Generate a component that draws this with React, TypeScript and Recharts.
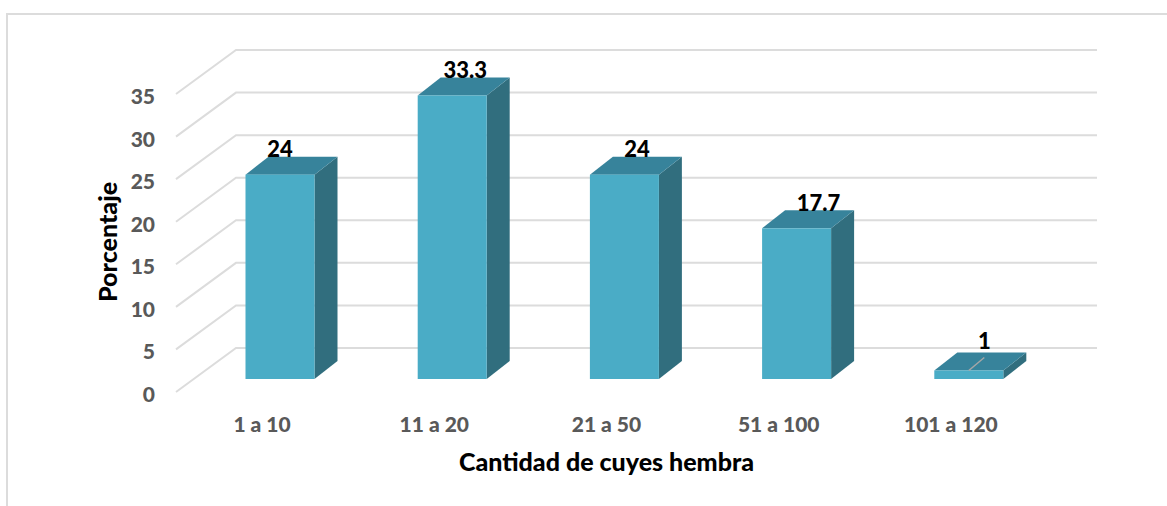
import React from "react";
import { BarChart, Bar, XAxis, YAxis, CartesianGrid, LabelList, Label } from "recharts";

const categories = ["1 a 10", "11 a 20", "21 a 50", "51 a 100", "101 a 120"];
const percentages = [24, 33.3, 24, 17.7, 1];
const yTicks = [0, 5, 10, 15, 20, 25, 30, 35];

const rows = categories.map((category, i) => ({ category, value: percentages[i] }));

const FONT = "Lato, Carlito, Calibri, sans-serif";
const WALL_DX = 60;
const WALL_DY = 44;
const BAR_DX = 17.5;
const BAR_DY = 13;
const DEPTH_DX = 23;
const DEPTH_DY = 18;
// how far each data label was dragged sideways in the reference
const labelNudgeX = [0, 13, 12.5, 22, 15.5];

const GridLine = (p: any) => (
  <polyline
    key={p.key}
    points={`${p.x1},${p.y1} ${p.x1 + WALL_DX},${p.y1 - WALL_DY} ${p.x2 + WALL_DX},${p.y1 - WALL_DY}`}
    fill="none"
    stroke="#dcdcdc"
    strokeWidth={2}
  />
);

const Bar3D = (p: any) => {
  const x = p.x + BAR_DX;
  const y = p.y - BAR_DY;
  const w = p.width;
  const h = p.height;
  return (
    <g>
      <polygon
        points={`${x + w},${y} ${x + w + DEPTH_DX},${y - DEPTH_DY} ${x + w + DEPTH_DX},${y + h - DEPTH_DY} ${x + w},${y + h}`}
        fill="#316e7e"
      />
      <polygon
        points={`${x},${y} ${x + DEPTH_DX},${y - DEPTH_DY} ${x + w + DEPTH_DX},${y - DEPTH_DY} ${x + w},${y}`}
        fill="#37839b"
      />
      <rect x={x} y={y} width={w} height={h} fill="#4aacc6" />
    </g>
  );
};

const ValueLabel = (p: any) => {
  const cx = p.x + p.width / 2 + BAR_DX + labelNudgeX[p.index];
  const top = p.y - BAR_DY;
  const small = p.value < 5;
  return (
    <g>
      {small && (
        <line
          x1={p.x + p.width / 2 + BAR_DX}
          y1={top}
          x2={cx}
          y2={top - 13}
          stroke="#a6a6a6"
          strokeWidth={1.5}
        />
      )}
      <text
        x={cx}
        y={small ? top - 30 : top - 26}
        textAnchor="middle"
        dominantBaseline="central"
        fontFamily={FONT}
        fontWeight={900}
        fontSize={22}
        fill="#000"
      >
        {p.value}
      </text>
    </g>
  );
};

export default function App() {
  return (
    <div style={{ position: "absolute", left: 0, top: 0, width: 1167, height: 506, background: "#fff", overflow: "hidden" }}>
      <div
        style={{
          position: "absolute",
          left: 6,
          top: 13,
          width: 1161,
          height: 493,
          boxSizing: "border-box",
          borderTop: "2px solid #dcdcdc",
          borderLeft: "2px solid #dcdcdc",
        }}
      />
      <div style={{ position: "absolute", left: 0, top: 0 }}>
        <BarChart
          width={1167}
          height={506}
          data={rows}
          margin={{ left: 0, right: 130, top: 94, bottom: 0 }}
          barSize={69}
        >
          <CartesianGrid vertical={false} horizontal={GridLine} />
          <XAxis
            dataKey="category"
            axisLine={false}
            tickLine={false}
            height={114}
            tickMargin={19}
            tick={{ fontFamily: FONT, fontWeight: 900, fontSize: 21, fill: "#595959" }}
            interval={0}
          >
            <Label
              value="Cantidad de cuyes hembra"
              position="insideBottom"
              offset={35}
              style={{ fontFamily: FONT, fontWeight: 900, fontSize: 25, fill: "#000" }}
            />
          </XAxis>
          <YAxis
            domain={[0, 35]}
            ticks={yTicks}
            axisLine={false}
            tickLine={false}
            width={176}
            tickMargin={15}
            tick={{ fontFamily: FONT, fontWeight: 900, fontSize: 21, fill: "#595959", dy: 2.5 }}
          >
            <Label
              content={() => (
                <text
                  transform="translate(107,242) rotate(-90)"
                  textAnchor="middle"
                  dominantBaseline="central"
                  fontFamily={FONT}
                  fontWeight={900}
                  fontSize={25}
                  fill="#000"
                >
                  Porcentaje
                </text>
              )}
            />
          </YAxis>
          <Bar dataKey="value" shape={Bar3D} isAnimationActive={false}>
            <LabelList dataKey="value" content={ValueLabel} />
          </Bar>
        </BarChart>
      </div>
    </div>
  );
}
